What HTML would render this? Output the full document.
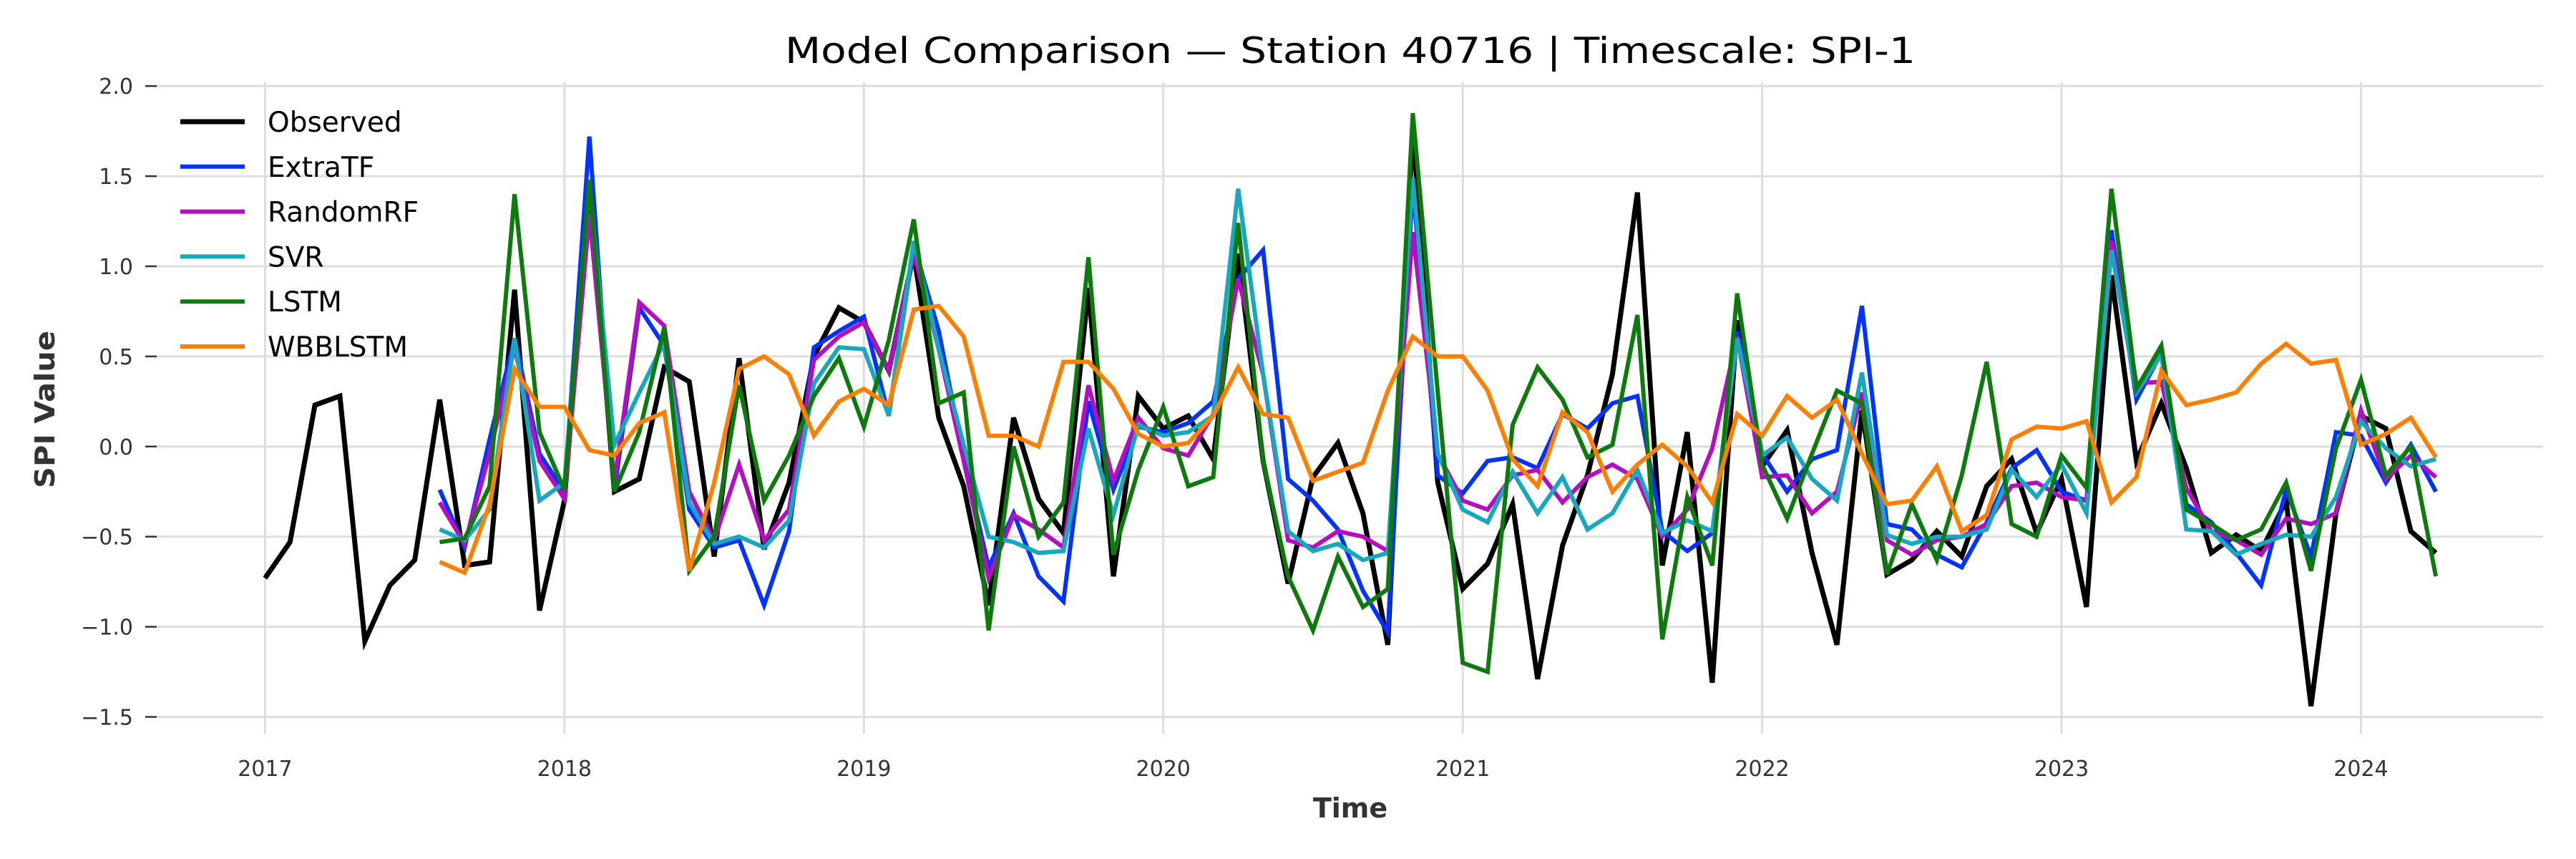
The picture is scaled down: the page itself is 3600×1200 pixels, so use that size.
<!DOCTYPE html>
<html><head><meta charset="utf-8"><title>Model Comparison</title>
<style>html,body{margin:0;padding:0;background:#fff}svg{display:block}</style></head>
<body>
<svg id="chart" width="3600" height="1200" viewBox="0 0 3600 1200" xmlns="http://www.w3.org/2000/svg" font-family="'DejaVu Sans','Liberation Sans',sans-serif">
<rect width="3600" height="1200" fill="#fff"/>
<g id="grid"></g>
<g id="axes"></g>
<g id="series"></g>
<text x="1887" y="88" text-anchor="middle" font-size="50" fill="#000" textLength="1580" lengthAdjust="spacingAndGlyphs">Model Comparison — Station 40716 | Timescale: SPI-1</text>
<text x="1887" y="1142" text-anchor="middle" font-size="38" font-weight="bold" fill="#333">Time</text>
<text transform="translate(76,572) rotate(-90)" text-anchor="middle" font-size="38" font-weight="bold" fill="#333" textLength="220" lengthAdjust="spacingAndGlyphs">SPI Value</text>
<g id="legend"></g>
</svg>
<script>
const yearTicks = [2017, 2018, 2019, 2020, 2021, 2022, 2023, 2024];
const yTicks = [-1.5, -1.0, -0.5, 0.0, 0.5, 1.0, 1.5, 2.0];
const seriesNames = ["Observed", "ExtraTF", "RandomRF", "SVR", "LSTM", "WBBLSTM"];
const startMonthObserved = 0;
const startMonthModels = 7;
const observed = [-0.73,-0.53,0.23,0.28,-1.08,-0.77,-0.63,0.26,-0.66,-0.64,0.87,-0.91,-0.3,1.45,-0.25,-0.18,0.44,0.36,-0.61,0.49,-0.57,-0.2,0.5,0.77,0.69,0.42,1.07,0.16,-0.22,-0.88,0.16,-0.29,-0.48,0.88,-0.72,0.28,0.1,0.17,-0.07,1.07,-0.08,-0.76,-0.17,0.02,-0.37,-1.1,1.78,-0.2,-0.79,-0.65,-0.32,-1.29,-0.55,-0.16,0.4,1.41,-0.66,0.08,-1.31,0.7,-0.11,0.09,-0.59,-1.1,0.2,-0.71,-0.63,-0.47,-0.61,-0.22,-0.07,-0.48,-0.18,-0.89,0.95,-0.08,0.24,-0.12,-0.59,-0.49,-0.58,-0.3,-1.44,-0.37,0.17,0.1,-0.47,-0.59];
const extraTF = [-0.24,-0.56,0.04,0.6,-0.04,-0.25,1.72,-0.25,0.77,0.56,-0.35,-0.56,-0.52,-0.88,-0.47,0.55,0.64,0.72,0.17,1.12,0.64,-0.06,-0.67,-0.37,-0.72,-0.86,0.25,-0.24,0.11,0.08,0.13,0.25,0.93,1.09,-0.18,-0.3,-0.46,-0.8,-1.03,1.45,-0.16,-0.26,-0.08,-0.06,-0.12,0.18,0.1,0.24,0.28,-0.47,-0.58,-0.48,0.64,-0.04,-0.25,-0.07,-0.02,0.78,-0.43,-0.46,-0.6,-0.67,-0.42,-0.12,-0.02,-0.25,-0.3,1.2,0.26,0.52,-0.32,-0.42,-0.59,-0.77,-0.24,-0.61,0.08,0.06,-0.2,0.01,-0.25];
const randomRF = [-0.31,-0.54,-0.04,0.55,-0.08,-0.29,1.29,-0.2,0.8,0.67,-0.25,-0.52,-0.1,-0.52,-0.35,0.48,0.61,0.69,0.42,1.07,0.54,-0.08,-0.73,-0.38,-0.46,-0.56,0.34,-0.19,0.16,-0.01,-0.05,0.18,0.93,0.4,-0.52,-0.56,-0.47,-0.5,-0.58,1.19,-0.04,-0.3,-0.35,-0.16,-0.13,-0.31,-0.17,-0.1,-0.18,-0.5,-0.35,-0.01,0.61,-0.17,-0.16,-0.37,-0.25,0.3,-0.52,-0.6,-0.52,-0.5,-0.43,-0.22,-0.2,-0.28,-0.3,1.14,0.35,0.36,-0.23,-0.47,-0.52,-0.6,-0.4,-0.43,-0.37,0.2,-0.18,-0.05,-0.17];
const svr = [-0.46,-0.52,-0.35,0.6,-0.3,-0.2,1.45,0.01,0.3,0.58,-0.31,-0.54,-0.5,-0.56,-0.41,0.35,0.55,0.54,0.17,1.14,0.54,0.01,-0.5,-0.53,-0.59,-0.58,0.1,-0.38,0.12,0.06,0.08,0.17,1.43,0.4,-0.47,-0.58,-0.54,-0.63,-0.59,1.49,-0.04,-0.35,-0.42,-0.14,-0.37,-0.17,-0.46,-0.37,-0.13,-0.48,-0.41,-0.47,0.6,-0.05,0.05,-0.18,-0.3,0.41,-0.49,-0.54,-0.5,-0.5,-0.46,-0.13,-0.28,-0.1,-0.37,1.09,0.3,0.51,-0.46,-0.47,-0.6,-0.54,-0.49,-0.5,-0.28,0.14,-0.01,-0.11,-0.07];
const lstm = [-0.53,-0.51,-0.22,1.4,0.08,-0.24,1.48,-0.25,0.08,0.66,-0.69,-0.5,0.34,-0.3,-0.05,0.28,0.49,0.11,0.59,1.26,0.24,0.3,-1.02,0,-0.5,-0.31,1.05,-0.6,-0.13,0.22,-0.22,-0.17,1.24,-0.08,-0.72,-1.02,-0.61,-0.89,-0.79,1.85,0.3,-1.2,-1.25,0.12,0.44,0.26,-0.06,0.01,0.73,-1.07,-0.28,-0.66,0.85,-0.1,-0.4,-0.04,0.31,0.24,-0.71,-0.32,-0.63,-0.16,0.47,-0.43,-0.5,-0.05,-0.23,1.43,0.32,0.56,-0.35,-0.43,-0.52,-0.46,-0.2,-0.69,-0.01,0.37,-0.16,0,-0.72];
const wbblstm = [-0.64,-0.7,-0.32,0.43,0.22,0.22,-0.02,-0.05,0.13,0.19,-0.69,-0.2,0.43,0.5,0.4,0.06,0.25,0.32,0.23,0.76,0.78,0.61,0.06,0.06,0,0.47,0.47,0.32,0.07,0,0.02,0.17,0.44,0.18,0.16,-0.19,-0.14,-0.09,0.31,0.61,0.5,0.5,0.31,-0.07,-0.22,0.19,0.08,-0.25,-0.1,0.01,-0.11,-0.31,0.18,0.06,0.28,0.16,0.26,-0.04,-0.32,-0.3,-0.11,-0.47,-0.38,0.04,0.11,0.1,0.14,-0.31,-0.17,0.42,0.23,0.26,0.3,0.46,0.57,0.46,0.48,0.01,0.07,0.16,-0.06];

const NS = "http://www.w3.org/2000/svg";
const X0 = 370.4, MONTH = 34.87, Y0 = 623.8, UNIT = 251.8;
const PL = 219, PR = 3554, PT = 115, PB = 1025;
function xMonth(m) { return X0 + m * MONTH; }
function xYear(yr) { return xMonth((yr - 2017) * 12); }
function yVal(v) { return Y0 - v * UNIT; }
function mk(tag, attrs, parent) {
  const e = document.createElementNS(NS, tag);
  for (const k in attrs) e.setAttribute(k, attrs[k]);
  parent.appendChild(e);
  return e;
}
const grid = document.getElementById('grid');
const axes = document.getElementById('axes');
yTicks.forEach(function (t) {
  const y = yVal(t);
  const gl = mk('line', {x1: PL, x2: PR, y1: y, y2: y, stroke: '#dddddd', 'stroke-width': 3}, grid);
  
  
  const tk = mk('line', {x1: 203, x2: 219, y1: y, y2: y, stroke: '#333', 'stroke-width': 2.5}, axes);
  
  
  const lb = mk('text', {x: 186, y: y + 11, 'text-anchor': 'end', 'font-size': 30, fill: '#333'}, axes);
  lb.textContent = (t < 0 ? '\u2212' : '') + Math.abs(t).toFixed(1);
  
  
});
yearTicks.forEach(function (yr) {
  const x = xYear(yr);
  const gl = mk('line', {x1: x, x2: x, y1: PT, y2: PB, stroke: '#dddddd', 'stroke-width': 3}, grid);
  
  
  const lb = mk('text', {x: x, y: 1084, 'text-anchor': 'middle', 'font-size': 30, fill: '#333'}, axes);
  lb.textContent = String(yr);
  
  
});
const seriesData = [observed, extraTF, randomRF, svr, lstm, wbblstm];
const seriesStart = [startMonthObserved, startMonthModels, startMonthModels, startMonthModels, startMonthModels, startMonthModels];
const seriesColors = ['#000000', '#0033ff', '#b40fbf', '#17a8bd', '#0e7a0e', '#ff8000'];
const seriesWidths = [7, 6, 6, 6, 6, 6];
const sg = document.getElementById('series');
seriesData.forEach(function (vals, si) {
  const pts = vals.map(function (v, i) { return xMonth(seriesStart[si] + i).toFixed(1) + ',' + yVal(v).toFixed(1); }).join(' ');
  const pl = mk('polyline', {points: pts, fill: 'none', stroke: seriesColors[si], 'stroke-width': seriesWidths[si], 'stroke-linejoin': 'miter', 'stroke-miterlimit': 4}, sg);
  
  
});
const lg = document.getElementById('legend');
seriesNames.forEach(function (n, i) {
  const y = 170 + i * 62.8;
  const ln = mk('line', {x1: 252, x2: 342, y1: y, y2: y, stroke: seriesColors[i], 'stroke-width': seriesWidths[i]}, lg);
  
  
  const tx = mk('text', {x: 374, y: y + 14, 'font-size': 39, fill: '#000'}, lg);
  tx.textContent = n;
  
  
});
</script>
</body></html>
